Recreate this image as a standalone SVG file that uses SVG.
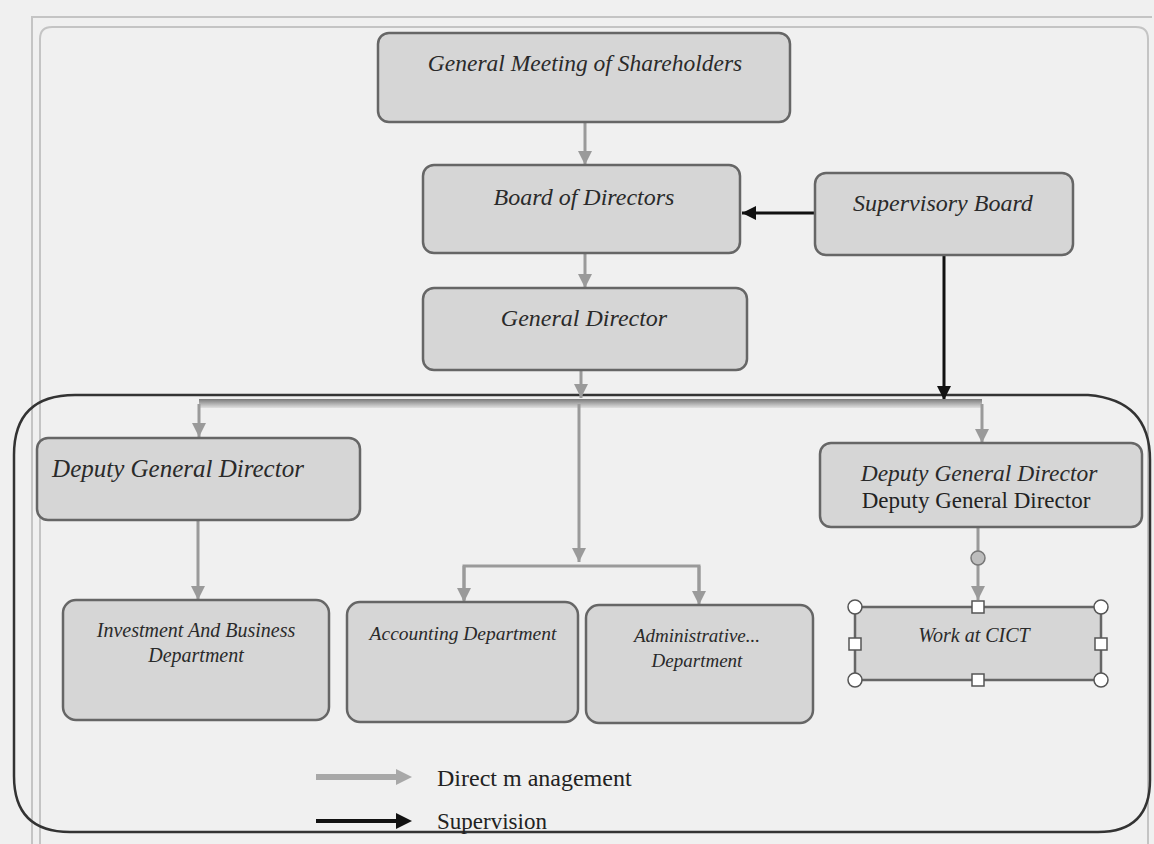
<svg xmlns="http://www.w3.org/2000/svg" width="1154" height="844" viewBox="0 0 1154 844">
<defs>
<style>
.node{fill:#d6d6d6;stroke:#666;stroke-width:2.5}
.t{font-family:"Liberation Serif",serif;font-style:italic;fill:#2a2a2a;text-anchor:middle}
.r{font-family:"Liberation Serif",serif;fill:#222}
.g{stroke:#9a9a9a;stroke-width:3;fill:none}
.b{stroke:#111;stroke-width:3;fill:none}
.h{fill:#fff;stroke:#555;stroke-width:1.5}
</style>
<marker id="ag" viewBox="0 0 10 10" refX="10" refY="5" markerWidth="14" markerHeight="14" markerUnits="userSpaceOnUse" orient="auto">
<path d="M0,0 L10,5 L0,10 z" fill="#9a9a9a"/>
</marker>
<marker id="ab" viewBox="0 0 10 10" refX="10" refY="5" markerWidth="14" markerHeight="14" markerUnits="userSpaceOnUse" orient="auto">
<path d="M0,0 L10,5 L0,10 z" fill="#111"/>
</marker>
<linearGradient id="bus" x1="0" y1="0" x2="0" y2="1">
<stop offset="0" stop-color="#7a7a7a"/>
<stop offset="1" stop-color="#e0e0e0"/>
</linearGradient>
</defs>
<rect x="0" y="0" width="1154" height="844" fill="#f0f0f0"/>
<g id="page-frame" fill="none" stroke="#c4c4c4" stroke-width="2">
<path d="M32,860 V17 H1152"/>
<path d="M40,860 V39 Q40,27 52,27 H1136 Q1148,27 1148,39 V860"/>
</g>
<g id="lower-frame">
<path d="M75,395 H1088 Q1150,400 1150,460 V780 Q1150,832 1098,832 H70 Q14,832 14,776 V455 Q14,395 75,395 Z" fill="none" stroke="#333" stroke-width="2.5"/>
</g>
<g id="connectors">
<line class="g" x1="585" y1="122" x2="585" y2="165" marker-end="url(#ag)"/>
<line class="g" x1="585" y1="253" x2="585" y2="288" marker-end="url(#ag)"/>
<line class="b" x1="815" y1="213" x2="742" y2="213" marker-end="url(#ab)"/>
<line class="b" x1="944" y1="255" x2="944" y2="400" marker-end="url(#ab)"/>
<line class="g" x1="581" y1="370" x2="581" y2="398" marker-end="url(#ag)"/>
<rect x="199" y="399" width="783" height="9" fill="url(#bus)"/>
<line class="g" x1="199" y1="404" x2="199" y2="437" marker-end="url(#ag)"/>
<line class="g" x1="982" y1="404" x2="982" y2="443" marker-end="url(#ag)"/>
<line class="g" x1="579" y1="404" x2="579" y2="562" marker-end="url(#ag)"/>
<path class="g" d="M464,600 V566 H699 V600" stroke-width="4"/>
<line class="g" x1="464" y1="566" x2="464" y2="602" marker-end="url(#ag)"/>
<line class="g" x1="699" y1="566" x2="699" y2="605" marker-end="url(#ag)"/>
<line class="g" x1="198" y1="520" x2="198" y2="600" marker-end="url(#ag)"/>
<line class="g" x1="978" y1="527" x2="978" y2="600" marker-end="url(#ag)"/>
<circle cx="978" cy="558" r="7" fill="#bdbdbd" stroke="#777" stroke-width="1.5"/>
</g>
<g id="n-gms"><rect class="node" x="378" y="33" width="412" height="89" rx="11"/><text class="t" x="585" y="71" font-size="23.5">General Meeting of Shareholders</text></g>
<g id="n-bod"><rect class="node" x="423" y="165" width="317" height="88" rx="11"/><text class="t" x="584" y="205" font-size="24">Board of Directors</text></g>
<g id="n-sb"><rect class="node" x="815" y="173" width="258" height="82" rx="11"/><text class="t" x="943" y="211" font-size="24">Supervisory Board</text></g>
<g id="n-gd"><rect class="node" x="423" y="288" width="324" height="82" rx="11"/><text class="t" x="584" y="326" font-size="24">General Director</text></g>
<g id="n-dgd1"><rect class="node" x="37" y="438" width="323" height="82" rx="11"/><text class="t" x="178" y="477" font-size="25">Deputy General Director</text></g>
<g id="n-dgd2"><rect class="node" x="820" y="443" width="322" height="84" rx="11"/><text class="t" x="979" y="481" font-size="23.5">Deputy General Director</text><text class="r" x="976" y="508" font-size="23" text-anchor="middle">Deputy General Director</text></g>
<g id="n-inv"><rect class="node" x="63" y="600" width="266" height="120" rx="13"/><text class="t" x="196" y="637" font-size="20">Investment And Business</text><text class="t" x="196" y="662" font-size="20">Department</text></g>
<g id="n-acc"><rect class="node" x="347" y="602" width="231" height="120" rx="13"/><text class="t" x="463" y="640" font-size="19.5">Accounting Department</text></g>
<g id="n-adm"><rect class="node" x="586" y="605" width="227" height="118" rx="13"/><text class="t" x="697" y="642" font-size="19">Administrative...</text><text class="t" x="697" y="667" font-size="19">Department</text></g>
<g id="n-cict"><rect class="node" x="855" y="607" width="246" height="73" rx="2"/><text class="t" x="974" y="642" font-size="20">Work at CICT</text>
<circle class="h" cx="855" cy="607" r="7"/><circle class="h" cx="1101" cy="607" r="7"/><circle class="h" cx="855" cy="680" r="7"/><circle class="h" cx="1101" cy="680" r="7"/>
<rect class="h" x="972" y="601" width="12" height="12"/><rect class="h" x="972" y="674" width="12" height="12"/><rect class="h" x="849" y="638" width="12" height="12"/><rect class="h" x="1095" y="638" width="12" height="12"/></g>
<g id="legend">
<line x1="316" y1="777" x2="398" y2="777" stroke="#a8a8a8" stroke-width="6"/><path d="M396,769 L412,777 L396,785 z" fill="#a8a8a8"/>
<text class="r" x="437" y="786" font-size="24">Direct m anagement</text>
<line x1="316" y1="821" x2="398" y2="821" stroke="#111" stroke-width="4"/><path d="M396,813 L412,821 L396,829 z" fill="#111"/>
<text class="r" x="437" y="829" font-size="23">Supervision</text>
</g>
</svg>
